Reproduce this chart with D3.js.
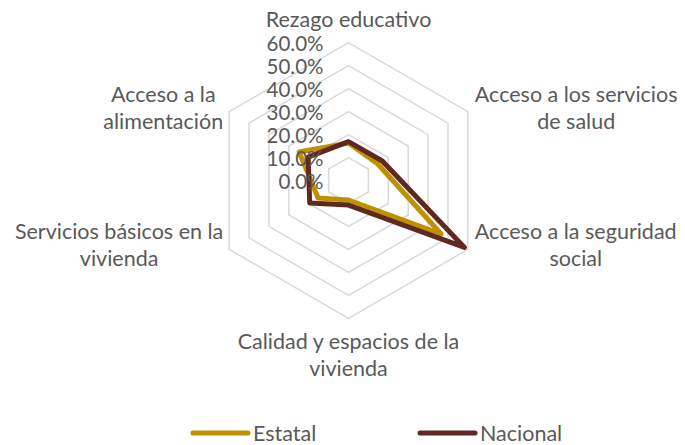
<!DOCTYPE html>
<html>
<head>
<meta charset="utf-8">
<script src="https://cdn.jsdelivr.net/npm/d3@7"></script>
<style>
  body { margin: 0; background: #fff; }
  text { font-family: Lato, "Open Sans", sans-serif; fill: #595959; }
</style>
</head>
<body>
<script>
var categories = ['Rezago educativo', 'Acceso a los servicios\nde salud', 'Acceso a la seguridad\nsocial',
                  'Calidad y espacios de la\nvivienda', 'Servicios básicos en la\nvivienda', 'Acceso a la\nalimentación'];
var estatal = [16.3, 14.6, 46.6, 8.5, 15.3, 24.8];
var nacional = [16.9, 17.0, 58.3, 10.7, 19.5, 20.3];
var ticks = [0, 10, 20, 30, 40, 50, 60];
var seriesNames = ['Estatal', 'Nacional'];
var colors = ['#bf9000', '#60281e'];

var width = 685;
var height = 445;
var cx = 348.5, cy = 180.5;
var fontSize = 21.5;
var tickFont = 20.5;
var lineH = 27;

var svg = d3.select('body')
            .append('svg')
            .attr('width', width)
            .attr('height', height);

var rScale = d3.scaleLinear()
                .domain([0, 60])
                .range([0, 137.8]);

var angle = d3.scalePoint()
                .domain(d3.range(categories.length + 1))
                .range([0, 2 * Math.PI]);

function pt(i, v) {
    var a = angle(i);
    return [cx + rScale(v) * Math.sin(a), cy - rScale(v) * Math.cos(a)];
}

var g = svg.append('g').attr('transform', 'translate(' + cx + ',' + cy + ')');

// grid hexagons
g.selectAll('.grid')
    .data(ticks.slice(1))
    .enter()
    .append('path')
    .attr('class', 'grid')
    .attr('fill', 'none')
    .attr('stroke', '#d9d9d9')
    .attr('stroke-width', 1.5)
    .attr('d', function (t) {
        return d3.lineRadial()
                 .angle(function (d, i) { return angle(i); })
                 .radius(function () { return rScale(t); })
                 .curve(d3.curveLinearClosed)(categories);
    });

// tick labels
svg.selectAll('.tick')
    .data(ticks)
    .enter()
    .append('text')
    .attr('class', 'tick')
    .attr('x', cx - 25)
    .attr('y', function (d) { return cy - rScale(d) + 8; })
    .attr('text-anchor', 'end')
    .style('font-size', tickFont + 'px')
    .text(function (d) { return d.toFixed(1) + '%'; });

// series
var line = d3.lineRadial()
                .angle(function (d, i) { return angle(i); })
                .radius(function (d) { return rScale(d); })
                .curve(d3.curveLinearClosed);

g.selectAll('.series')
    .data([estatal, nacional])
    .enter()
    .append('path')
    .attr('class', 'series')
    .attr('fill', 'none')
    .attr('stroke', function (d, i) { return colors[i]; })
    .attr('stroke-width', 5)
    .attr('stroke-linejoin', 'round')
    .attr('d', line);

// category labels
categories.forEach(function (c, i) {
    var lines = c.split('\n');
    var v = pt(i, 60);
    var t = svg.append('text')
                .style('font-size', fontSize + 'px')
                .attr('text-anchor', 'middle');
    var spans = lines.map(function (l) {
        return t.append('tspan').text(l);
    });
    var w = d3.max(spans, function (s) { return s.node().getComputedTextLength(); });
    var x, yTop;
    var blockH = lines.length * lineH;
    if (i === 0) {
        x = v[0];
        yTop = v[1] - 9 - blockH;
    } else if (i === 3) {
        x = v[0];
        yTop = v[1] + 11;
    } else if (i < 3) {
        x = v[0] + 7 + w / 2;
        yTop = v[1] - blockH / 2 - 3;
    } else {
        x = v[0] - 6 - w / 2;
        yTop = v[1] - blockH / 2 - 3;
    }
    spans.forEach(function (s, j) {
        s.attr('x', x).attr('y', yTop + (j + 1) * lineH - 7);
    });
});

// legend
var legendX = [193, 420];
var legend = svg.selectAll('.legend')
                .data(seriesNames)
                .enter()
                .append('g')
                .attr('class', 'legend')
                .attr('transform', function (d, i) { return 'translate(' + legendX[i] + ',433)'; });
legend.append('line')
        .attr('x1', 0)
        .attr('x2', 55)
        .attr('stroke', function (d, i) { return colors[i]; })
        .attr('stroke-width', 5)
        .attr('stroke-linecap', 'round');
legend.append('text')
        .attr('x', 60)
        .attr('y', 8)
        .style('font-size', fontSize + 'px')
        .text(function (d) { return d; });
</script>
</body>
</html>
